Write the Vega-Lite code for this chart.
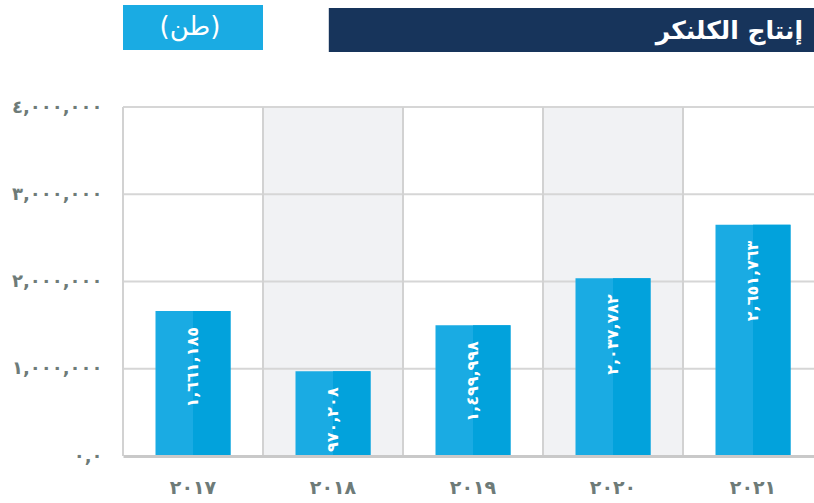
{
  "$schema": "https://vega.github.io/schema/vega-lite/v6.json",
  "width": 691,
  "height": 349,
  "autosize": {"type": "none"},
  "padding": {"left": 123, "top": 107, "right": 0, "bottom": 47},
  "background": "#ffffff",
  "config": {
    "view": {"stroke": null},
    "font": "DejaVu Sans",
    "axisX": {
      "domain": true, "domainColor": "#C9C9C9", "domainWidth": 3,
      "ticks": false, "grid": false, "labelAngle": 0,
      "labelFont": "DejaVu Sans", "labelFontSize": 19, "labelFontWeight": "bold",
      "labelColor": "#6E7B78", "labelPadding": 22,
      "labelExpr": "replace(replace(replace(replace(replace(replace(replace(datum.label, regexp('0','g'), '٠'), regexp('1','g'), '١'), regexp('2','g'), '٢'), regexp('7','g'), '٧'), regexp('8','g'), '٨'), regexp('9','g'), '٩'), regexp('6','g'), '٦')"
    },
    "axisY": {
      "domain": false, "ticks": false, "grid": false,
      "labelFont": "DejaVu Sans", "labelFontSize": 18, "labelFontWeight": "bold",
      "labelColor": "#6E7B78", "labelPadding": 21,
      "labelExpr": "datum.value == 0 ? '٠,٠' : replace(replace(replace(replace(replace(format(datum.value, ','), regexp('0','g'), '٠'), regexp('1','g'), '١'), regexp('2','g'), '٢'), regexp('3','g'), '٣'), regexp('4','g'), '٤')"
    }
  },
  "datasets": {
    "production": [
      {"year": "2017", "value": 1661185, "label": "١,٦٦١,١٨٥"},
      {"year": "2018", "value": 970208, "label": "٩٧٠,٢٠٨"},
      {"year": "2019", "value": 1499998, "label": "١,٤٩٩,٩٩٨"},
      {"year": "2020", "value": 2037782, "label": "٢,٠٣٧,٧٨٢"},
      {"year": "2021", "value": 2651763, "label": "٢,٦٥١,٧٦٣"}
    ],
    "shade": [{"year": "2018"}, {"year": "2020"}],
    "gridlines": [{"tick": 1000000}, {"tick": 2000000}, {"tick": 3000000}, {"tick": 4000000}]
  },
  "layer": [
    {
      "data": {"name": "shade"},
      "mark": {"type": "rect", "color": "#F1F2F4"},
      "encoding": {
        "x": {"field": "year", "type": "nominal", "title": null,
              "scale": {"domain": ["2017", "2018", "2019", "2020", "2021"], "range": [0, 700], "paddingInner": 0, "paddingOuter": 0}},
        "y": {"datum": 4000000, "type": "quantitative", "scale": {"domain": [0, 4000000], "nice": false}},
        "y2": {"datum": 0}
      }
    },
    {
      "data": {"name": "gridlines"},
      "mark": {"type": "rule", "color": "#D6D6D6", "strokeWidth": 2},
      "encoding": {
        "y": {"field": "tick", "type": "quantitative", "title": null,
              "scale": {"domain": [0, 4000000], "nice": false},
              "axis": {"values": [0, 1000000, 2000000, 3000000, 4000000]}}
      }
    },
    {
      "data": {"name": "production"},
      "mark": {"type": "rule", "color": "#D2D2D2", "strokeWidth": 2},
      "encoding": {
        "x": {"field": "year", "type": "nominal", "title": null, "bandPosition": 0},
        "y": {"datum": 4000000, "type": "quantitative", "scale": {"domain": [0, 4000000], "nice": false}},
        "y2": {"datum": 0}
      }
    },
    {
      "data": {"name": "production"},
      "mark": {"type": "bar", "color": "#1AABE3", "width": 75},
      "encoding": {
        "x": {"field": "year", "type": "nominal", "title": null},
        "y": {"field": "value", "type": "quantitative", "title": null,
              "scale": {"domain": [0, 4000000], "nice": false},
              "axis": {"values": [0, 1000000, 2000000, 3000000, 4000000]}}
      }
    },
    {
      "data": {"name": "production"},
      "mark": {"type": "bar", "color": "#02A2DC", "width": 37.5, "xOffset": 18.75},
      "encoding": {
        "x": {"field": "year", "type": "nominal", "title": null},
        "y": {"field": "value", "type": "quantitative", "title": null,
              "scale": {"domain": [0, 4000000], "nice": false},
              "axis": {"values": [0, 1000000, 2000000, 3000000, 4000000]}}
      }
    },
    {
      "data": {"name": "production"},
      "mark": {"type": "text", "angle": 270, "align": "right", "baseline": "middle", "dx": -16,
               "color": "#ffffff", "font": "DejaVu Sans", "fontSize": 16, "fontWeight": "bold"},
      "encoding": {
        "x": {"field": "year", "type": "nominal", "title": null, "bandPosition": 0.5},
        "y": {"field": "value", "type": "quantitative", "title": null,
              "scale": {"domain": [0, 4000000], "nice": false},
              "axis": {"values": [0, 1000000, 2000000, 3000000, 4000000]}},
        "text": {"field": "label"}
      }
    },
    {
      "data": {"values": [{"text": "(طن)"}]},
      "layer": [
        {
          "mark": {"type": "rect", "color": "#1AABE3"},
          "encoding": {
            "x": {"datum": "2017"},
            "y": {"datum": 5169000, "type": "quantitative", "scale": {"domain": [0, 4000000], "nice": false}},
            "y2": {"datum": 4653000}
          }
        },
        {
          "mark": {"type": "text", "color": "#ffffff", "font": "DejaVu Sans", "fontSize": 26, "align": "center", "baseline": "middle", "dx": -3},
          "encoding": {
            "x": {"datum": "2017", "bandPosition": 0.5},
            "y": {"datum": 4922000, "type": "quantitative", "scale": {"domain": [0, 4000000], "nice": false}},
            "text": {"field": "text"}
          }
        }
      ]
    },
    {
      "data": {"values": [{"text": "إنتاج الكلنكر"}]},
      "layer": [
        {
          "mark": {"type": "rect", "color": "#17345B"},
          "encoding": {
            "x": {"datum": "2018", "bandPosition": 0.47},
            "x2": {"value": "width"},
            "y": {"datum": 5134700, "type": "quantitative", "scale": {"domain": [0, 4000000], "nice": false}},
            "y2": {"datum": 4630000}
          }
        },
        {
          "mark": {"type": "text", "color": "#ffffff", "font": "DejaVu Sans", "fontSize": 25, "fontWeight": "bold", "align": "right", "baseline": "middle", "dx": -11},
          "encoding": {
            "x": {"value": "width"},
            "y": {"datum": 4875000, "type": "quantitative", "scale": {"domain": [0, 4000000], "nice": false}},
            "text": {"field": "text"}
          }
        }
      ]
    }
  ]
}
